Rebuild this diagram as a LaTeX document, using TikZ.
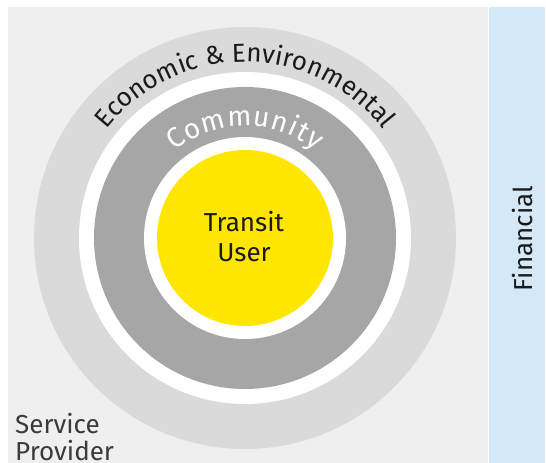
\documentclass[tikz,border=0pt]{standalone}
\usepackage{fontspec}
\setmainfont{Fira Sans}
\IfFontExistsTF{FiraSans-Medium.otf}
  {\newfontfamily\medfont{FiraSans-Medium.otf}}
  {\newfontfamily\medfont{Fira Sans}}
\usetikzlibrary{decorations.text}
\definecolor{bggray}{HTML}{EFEFEF}
\definecolor{ringlight}{HTML}{DADADA}
\definecolor{ringdark}{HTML}{A6A6A6}
\definecolor{useryellow}{HTML}{FFE600}
\definecolor{finblue}{HTML}{D5E8F8}
\definecolor{txtdark}{HTML}{1A1A1A}
\definecolor{txtgray}{HTML}{3A3A3A}
\newcommand{\bigfont}{\fontsize{26}{30}\selectfont}
\newcommand{\commfont}{\medfont\fontsize{28}{32}\selectfont}
\newcommand{\econfont}{\medfont\fontsize{26}{30}\selectfont}
\tikzset{
  disc/.style={circle, draw=none, inner sep=0pt, outer sep=0pt, minimum size=#1},
  label text/.style={inner sep=0pt, font=\bigfont, text=txtgray},
  user text/.style={inner sep=0pt, anchor=base, font=\medfont\bigfont, text=txtdark},
}
\begin{document}
\begin{tikzpicture}[x=1pt,y=1pt]
\useasboundingbox (0,0) rectangle (546,463);
\fill[white] (0,0) rectangle (546,463);
\fill[bggray] (8,0) rectangle (488,456);
\fill[finblue] (489,0) rectangle (545,456);
\coordinate (c) at (245,225);
\node[disc=422pt, fill=ringlight] (econ) at (c) {};
\node[disc=332pt, fill=white] (gap1) at (c) {};
\node[disc=302pt, fill=ringdark] (comm) at (c) {};
\node[disc=202pt, fill=white] (gap2) at (c) {};
\node[disc=176pt, fill=useryellow] (user) at (c) {};
\path[decorate, decoration={text along path, text align=center, text color=txtdark,
  text={|\econfont|Economic {\&} Environmental}}]
  (c) ++(180:176) arc[start angle=180, end angle=0, radius=176];
\path[decorate, decoration={text along path, text align=center, text color=white,
  text={|\commfont|{C\kern1pt}{o\kern1pt}{m\kern1pt}{m\kern1pt}{u\kern1pt}{n\kern1pt}{i\kern1pt}{t\kern1pt}{y}}}]
  (c) ++(180:112) arc[start angle=180, end angle=0, radius=112];
\node[user text] (t1) at (244,231) {Transit};
\node[user text] (t2) at (244,201) {User};
\node[label text, rotate=90, anchor=base, font=\medfont\bigfont, text=txtdark] (fin) at (532,224.5) {Financial};
\node[label text, anchor=base west] (sp1) at (15,29) {Service};
\node[label text, anchor=base west] (sp2) at (15,2) {Provider};
\end{tikzpicture}
\end{document}
